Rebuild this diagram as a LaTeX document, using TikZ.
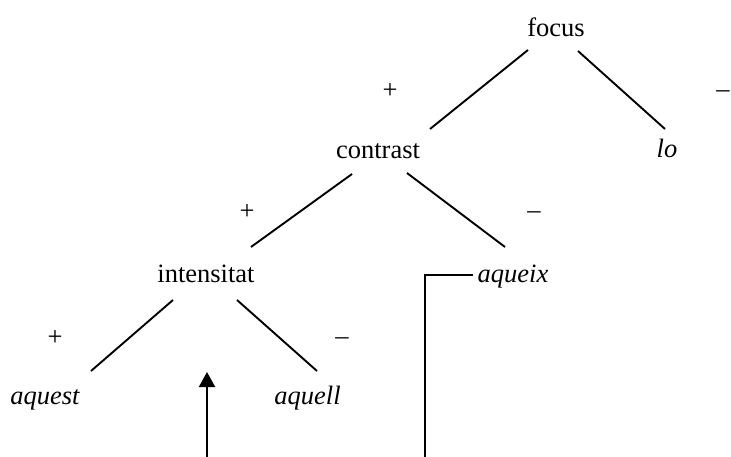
\documentclass[tikz,border=0pt]{standalone}
\usepackage{fontspec}
\setmainfont{Liberation Serif}
\usetikzlibrary{arrows.meta,calc}
\begin{document}
\begin{tikzpicture}[x=1pt,y=-1pt,
  lbl/.style={inner sep=0pt,anchor=base,font=\fontsize{26.5}{30}\selectfont},
  word/.style={lbl,font=\fontsize{26.5}{30}\selectfont\itshape},
  sgn/.style={lbl},
  branch/.style={line width=1.9pt},
  pointer/.style={line width=2pt,-{Triangle[width=16pt,length=15pt]}},
  bracket/.style={line width=1.6pt}]
\useasboundingbox (0,0) rectangle (731,457);
\clip (0,0) rectangle (731,457);

% tree labels
\node[lbl]  (focus)      at (556,37)  {focus};
\node[lbl]  (contrast)   at (378,159) {contrast};
\node[word] (lo)         at (667,158) {lo};
\node[lbl]  (intensitat) at (206,282) {intensitat};
\node[word] (aqueix)     at (513,282) {aqueix};
\node[word] (aquest)     at (45,404)  {aquest};
\node[word] (aquell)     at (307.5,404) {aquell};

% feature values
\node[sgn] (p1) at (390,99)  {+};
\node[sgn] (m1) at (723,98)  {–};
\node[sgn] (p2) at (247,220) {+};
\node[sgn] (m2) at (534,219) {–};
\node[sgn] (p3) at (55,345)  {+};
\node[sgn] (m3) at (342,344) {–};

% branches
\draw[branch] ($(focus.base)+(-28,13)$) -- ($(contrast.base)+(52,-30)$);
\draw[branch] ($(focus.base)+(22,14)$) -- ($(lo.base)+(-2,-29)$);
\draw[branch] ($(contrast.base)+(-26,15)$) -- ($(intensitat.base)+(45,-35)$);
\draw[branch] ($(contrast.base)+(29,14)$) -- ($(aqueix.base)+(-8,-35)$);
\draw[branch] ($(intensitat.base)+(-33,18)$) -- ($(aquest.base)+(46,-33)$);
\draw[branch] ($(intensitat.base)+(31,18)$) -- ($(aquell.base)+(9.5,-33)$);

% arrow and bracket
\coordinate (arrowfoot) at (207,460);
\coordinate (arrowtip)  at (207,372);
\draw[pointer] (arrowfoot) -- (arrowtip);
\coordinate (bracketfoot) at (425,460);
\draw[bracket] ($(aqueix.base)+(-40,-7)$) -| (bracketfoot);
\end{tikzpicture}
\end{document}
